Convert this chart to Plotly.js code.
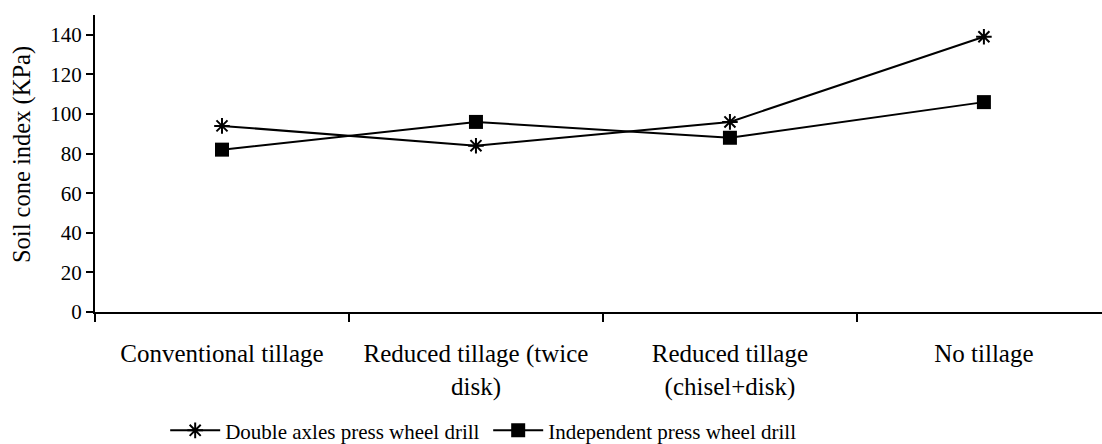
<!DOCTYPE html>
<html>
<head>
<meta charset="utf-8">
<script src="https://cdn.plot.ly/plotly-3.0.1.min.js"></script>
<style>html,body{margin:0;padding:0;background:#fff;}</style>
</head>
<body>
<div id="chart" style="width:1102px;height:444px;"></div>
<script>
var categories = ["Conventional tillage", "Reduced tillage (twice<br>disk)", "Reduced tillage<br>(chisel+disk)", "No tillage"];
var doubleAxles = [94, 84, 96, 139];
var independent = [82, 96, 88, 106];
var yTicks = [0, 20, 40, 60, 80, 100, 120, 140];
var yTitle = "Soil cone index (KPa)";

var font = "Liberation Serif, Times New Roman, serif";

var traces = [
  {
    x: categories, y: doubleAxles, type: "scatter", mode: "lines+markers",
    name: "Double axles press wheel drill",
    line: {color: "#000", width: 2},
    marker: {symbol: "asterisk-open", size: 13, color: "#000", line: {color: "#000", width: 2}}
  },
  {
    x: categories, y: independent, type: "scatter", mode: "lines+markers",
    name: "Independent press wheel drill",
    line: {color: "#000", width: 2},
    marker: {symbol: "square", size: 14, color: "#000"}
  }
];

var layout = {
  width: 1102, height: 444,
  margin: {l: 95, r: 0, t: 15, b: 132, autoexpand: false},
  paper_bgcolor: "#fff", plot_bgcolor: "#fff",
  font: {family: font, color: "#000", size: 21},
  showlegend: true,
  legend: {orientation: "h", xref: "container", yref: "container",
           x: 0.443, xanchor: "center", y: 0.03, yanchor: "middle",
           itemwidth: 50, entrywidth: 258, entrywidthmode: "pixels",
           font: {family: font, size: 21, color: "#000"}, tracegroupgap: 0},
  xaxis: {
    type: "category", range: [-0.5, 3.465],
    tickson: "boundaries", ticks: "outside", ticklen: 8, tickwidth: 2, tickcolor: "#000",
    showline: true, linewidth: 2, linecolor: "#000",
    showgrid: false, zeroline: false,
    tickfont: {family: font, size: 25, color: "#000"},
    ticklabelstandoff: 18, automargin: false
  },
  yaxis: {
    range: [0, 150], tickvals: yTicks, ticktext: yTicks.map(String),
    ticks: "outside", ticklen: 7, tickwidth: 2, tickcolor: "#000",
    showline: true, linewidth: 2, linecolor: "#000",
    showgrid: false, zeroline: false, automargin: false,
    tickfont: {family: font, size: 21, color: "#000"}
  },
  annotations: [{
    text: yTitle, xref: "paper", yref: "paper", x: 0, y: 0.5286,
    xanchor: "center", yanchor: "middle", xshift: -73, textangle: -90,
    showarrow: false, font: {family: font, size: 24.5, color: "#000"}
  }]
};

Plotly.newPlot("chart", traces, layout, {displayModeBar: false, staticPlot: true});
</script>
</body>
</html>
